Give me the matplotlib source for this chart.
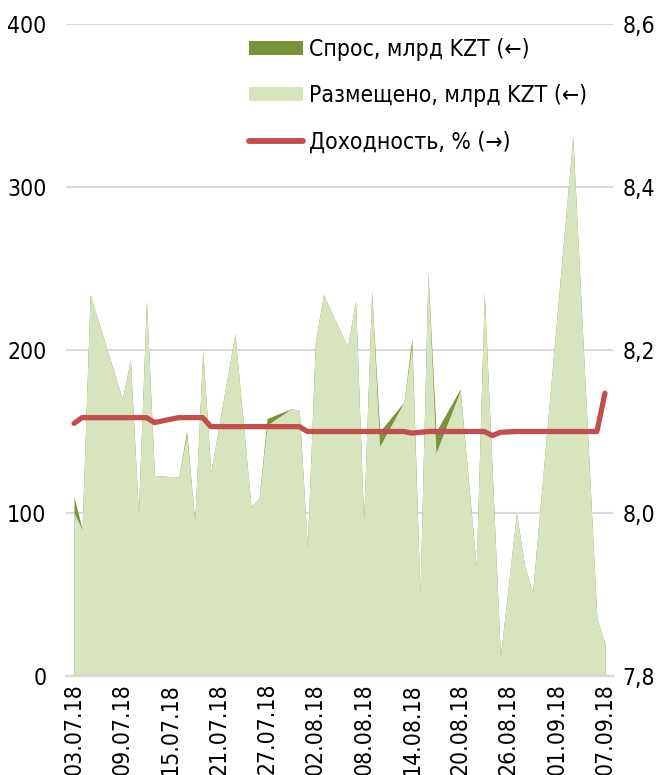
import matplotlib
matplotlib.use("Agg")
import matplotlib.pyplot as plt
import matplotlib.dates as mdates
from matplotlib.patches import Patch
from matplotlib.lines import Line2D
from matplotlib import font_manager
import datetime as dt

# ---- data ----
dates = ["03.07.18", "04.07.18", "05.07.18", "09.07.18", "10.07.18", "11.07.18", "12.07.18",
         "13.07.18", "16.07.18", "17.07.18", "18.07.18", "19.07.18", "20.07.18", "23.07.18",
         "24.07.18", "25.07.18", "26.07.18", "27.07.18", "30.07.18", "31.07.18", "01.08.18",
         "02.08.18", "03.08.18", "06.08.18", "07.08.18", "08.08.18", "09.08.18", "10.08.18",
         "13.08.18", "14.08.18", "15.08.18", "16.08.18", "17.08.18", "20.08.18", "22.08.18",
         "23.08.18", "24.08.18", "25.08.18", "27.08.18", "28.08.18", "29.08.18", "03.09.18",
         "04.09.18", "05.09.18", "06.09.18", "07.09.18"]
demand = [110, 90, 234, 170, 194, 100, 230,
          123, 122, 150, 95, 200, 125, 210,
          157, 104, 109, 158, 164, 163, 79,
          205, 234, 202, 230, 95, 236, 150,
          168, 207, 50, 247, 150, 176, 67,
          235, 124, 12, 100, 68, 51, 331,
          232, 133, 35, 20]
placed = [100, 90, 234, 170, 194, 100, 230,
          123, 122, 148, 95, 200, 125, 210,
          157, 104, 109, 154, 164, 163, 79,
          205, 234, 202, 230, 95, 236, 141,
          168, 203, 50, 247, 137, 175, 67,
          235, 124, 12, 100, 68, 51, 331,
          232, 133, 35, 20]
yield_pct = [8.110, 8.117, 8.117, 8.117, 8.117, 8.117, 8.117,
             8.111, 8.117, 8.117, 8.117, 8.117, 8.106, 8.106,
             8.106, 8.106, 8.106, 8.106, 8.106, 8.106, 8.100,
             8.100, 8.100, 8.100, 8.100, 8.100, 8.100, 8.100,
             8.100, 8.098, 8.099, 8.100, 8.100, 8.100, 8.100,
             8.100, 8.095, 8.099, 8.100, 8.100, 8.100, 8.100,
             8.100, 8.100, 8.100, 8.147]
left_ticks = [0, 100, 200, 300, 400]
right_ticks = [7.8, 8.0, 8.2, 8.4, 8.6]
right_tick_labels = ["7,8", "8,0", "8,2", "8,4", "8,6"]
series_names = ["Спрос, млрд KZT (←)", "Размещено, млрд KZT (←)", "Доходность, % (→)"]

# ---- font: condensed sans ----
has_cond = any(f.name == "DejaVu Sans" and f.stretch == "condensed"
               for f in font_manager.fontManager.ttflist)
plt.rcParams["font.family"] = ["DejaVu Sans"]
if has_cond:
    plt.rcParams["font.stretch"] = "condensed"
    FS = 16.5
else:
    plt.rcParams["font.family"] = ["Liberation Sans", "DejaVu Sans"]
    FS = 16

C_DEM = "#77933C"
C_PLC = "#D7E4BD"
C_YLD = "#C0504D"
C_GRID = "#D9D9D9"

x = [dt.datetime.strptime(d, "%d.%m.%y") for d in dates]

fig = plt.figure(figsize=(6.69, 7.75), dpi=100)
ax = fig.add_axes([66 / 669, 1 - 676 / 775, (613 - 66) / 669, (676 - 24) / 775])
ax2 = ax.twinx()

ax.fill_between(x, 0, demand, color=C_DEM, linewidth=0, zorder=2)
ax.fill_between(x, 0, placed, color=C_PLC, linewidth=0, zorder=3)
ax2.plot(x, yield_pct, color=C_YLD, linewidth=3.8, solid_capstyle="round",
         solid_joinstyle="round", zorder=5)

ax.set_ylim(0, 400)
ax.set_yticks(left_ticks)
ax2.set_ylim(7.8, 8.6)
ax2.set_yticks(right_ticks)
ax2.set_yticklabels(right_tick_labels)

x0 = x[0] - dt.timedelta(days=1)
x1 = x[-1] + dt.timedelta(days=1)
ax.set_xlim(x0, x1)
ticks = [x[0] + dt.timedelta(days=6 * i) for i in range(12)]
ax.set_xticks(ticks)
ax.xaxis.set_major_formatter(mdates.DateFormatter("%d.%m.%y"))

ax.grid(axis="y", color=C_GRID, linewidth=1.5, zorder=0)
ax.set_axisbelow(True)
for a in (ax, ax2):
    for s in ("top", "left", "right"):
        a.spines[s].set_visible(False)
    a.spines["bottom"].set_color(C_GRID)
    a.spines["bottom"].set_linewidth(1.5)
    a.tick_params(length=0, labelsize=FS, colors="black")
ax.tick_params(axis="y", pad=14)
ax.tick_params(axis="x", pad=5, labelsize=16.5)
ax2.tick_params(axis="y", pad=7)
for lab in ax.get_xticklabels():
    lab.set_rotation(90)
    lab.set_va("top")
    lab.set_ha("center")

handles = [Patch(facecolor=C_DEM, edgecolor="none"),
           Patch(facecolor=C_PLC, edgecolor="none"),
           Line2D([0], [0], color=C_YLD, linewidth=4.2, solid_capstyle="round")]
leg = ax2.legend(handles, series_names, loc="upper left", bbox_to_anchor=(0.3085, 1.0),
                 frameon=False, fontsize=FS, handlelength=2.36, handleheight=0.57,
                 labelspacing=1.01, handletextpad=0.26, borderaxespad=0.22)

fig.savefig("out.png", dpi=100)
